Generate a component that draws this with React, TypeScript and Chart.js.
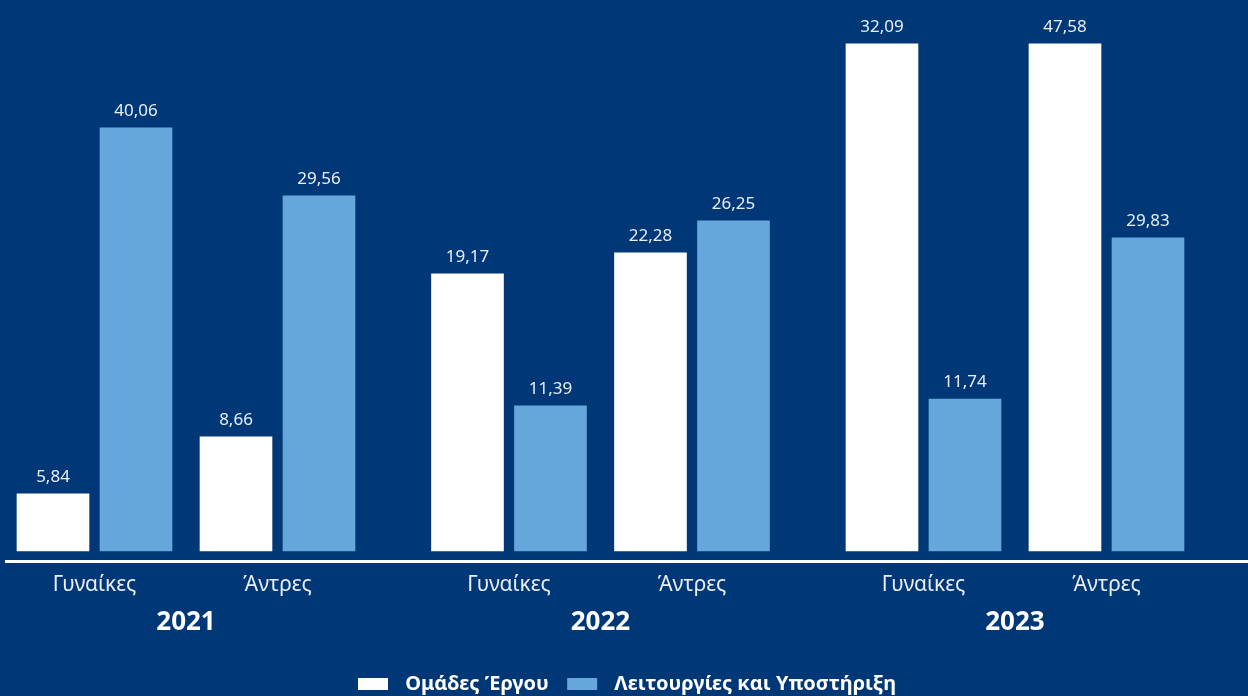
import React, { useEffect, useRef } from 'react';
import { Chart, registerables } from 'chart.js';

Chart.register(...registerables);

// ---- data ----
const years = ['2021', '2022', '2023'];
const genders = ['Γυναίκες', 'Άντρες'];
const seriesNames = ['Ομάδες Έργου', 'Λειτουργίες και Υποστήριξη'];
// printed values, order: 2021 Γυναίκες, 2021 Άντρες, 2022 Γυναίκες, 2022 Άντρες, 2023 Γυναίκες, 2023 Άντρες
const projectTeamsValues = [5.84, 8.66, 19.17, 22.28, 32.09, 47.58];
const operationsValues = [40.06, 29.56, 11.39, 26.25, 11.74, 29.83];
// bar heights as drawn in the picture (same order)
const projectTeamsHeights = [5.35, 10.7, 26.0, 27.97, 47.58, 47.58];
const operationsHeights = [39.7, 33.31, 13.61, 30.97, 14.26, 29.37];

// ---- style ----
const BG = '#003776';
const WHITE = '#ffffff';
const BLUE = '#66a7db';
const LABEL = '#e9eef5';
const FONT = '"Noto Sans", "DejaVu Sans", sans-serif';

const GROUP_GAP = 0.265;
const pos = (yi: number, gi: number) => yi * (genders.length + GROUP_GAP) + gi;
const catPositions = years.flatMap((_, yi) => genders.map((_, gi) => pos(yi, gi)));
const catLabels = years.flatMap(() => genders);
const yearPositions = years.map((_, yi) => pos(yi, (genders.length - 1) / 2));
const X_MIN = -0.4836;
const X_MAX = 6.3033;

const fmt = (v: number) => v.toFixed(2).replace('.', ',');

const valueLabelPlugin = {
  id: 'valueLabels',
  afterDatasetsDraw(chart: any) {
    const ctx = chart.ctx;
    ctx.save();
    ctx.font = `17px ${FONT}`;
    ctx.fillStyle = LABEL;
    ctx.textAlign = 'center';
    ctx.textBaseline = 'alphabetic';
    [projectTeamsValues, operationsValues].forEach((vals, di) => {
      chart.getDatasetMeta(di).data.forEach((el: any, i: number) => {
        ctx.fillText(fmt(vals[i]), el.x, el.y - 12);
      });
    });
    ctx.restore();
  },
};

export default function App() {
  const ref = useRef<HTMLCanvasElement | null>(null);

  useEffect(() => {
    if (!ref.current) return;
    const chart = new Chart(ref.current, {
      type: 'bar',
      data: {
        datasets: [
          {
            label: seriesNames[0],
            data: projectTeamsHeights.map((h, i) => ({ x: catPositions[i], y: h })),
            backgroundColor: WHITE,
            borderWidth: 0,
          },
          {
            label: seriesNames[1],
            data: operationsHeights.map((h, i) => ({ x: catPositions[i], y: h })),
            backgroundColor: BLUE,
            borderWidth: 0,
          },
        ],
      },
      options: {
        animation: false,
        responsive: true,
        maintainAspectRatio: false,
        events: [],
        layout: { padding: { top: 18, left: 6, right: 0, bottom: 0 } },
        datasets: {
          bar: { barThickness: 83, maxBarThickness: 72 },
        },
        scales: {
          x: {
            type: 'linear',
            position: 'bottom',
            offset: false,
            weight: 0,
            min: X_MIN,
            max: X_MAX,
            afterBuildTicks: (axis: any) => {
              axis.ticks = catPositions.map((v) => ({ value: v }));
            },
            afterFit: (axis: any) => {
              axis.height = 40;
            },
            grid: { display: true, offset: false, color: 'transparent', drawTicks: false, drawOnChartArea: false },
            border: { display: true, color: WHITE, width: 3 },
            ticks: {
              autoSkip: false,
              maxRotation: 0,
              padding: 11,
              color: LABEL,
              font: { family: FONT, size: 21 },
              callback: (_v: any, i: number) => catLabels[i],
            },
          },
          years: {
            type: 'linear',
            position: 'bottom',
            axis: 'x',
            offset: false,
            weight: 1,
            min: X_MIN,
            max: X_MAX,
            afterBuildTicks: (axis: any) => {
              axis.ticks = yearPositions.map((v) => ({ value: v }));
            },
            afterFit: (axis: any) => {
              axis.height = 63;
            },
            grid: { display: false, offset: false, drawTicks: false },
            border: { display: false },
            ticks: {
              autoSkip: false,
              maxRotation: 0,
              padding: 6,
              color: WHITE,
              font: { family: FONT, size: 26, weight: 'bold' },
              callback: (_v: any, i: number) => years[i],
            },
          },
          y: {
            display: false,
            min: -0.94,
            max: 50,
          },
        },
        plugins: {
          tooltip: { enabled: false },
          legend: {
            display: true,
            position: 'bottom',
            labels: {
              boxWidth: 30,
              boxHeight: 12,
              padding: 10,
              color: WHITE,
              font: { family: FONT, size: 20, weight: 'bold' },
              generateLabels: (c: any) =>
                Chart.defaults.plugins.legend.labels.generateLabels(c).map((l: any, i: number, arr: any[]) => ({
                  ...l,
                  lineWidth: 0,
                  text: ' \u200A' + l.text + (i < arr.length - 1 ? ' \u2009' : ''),
                })),
            },
          },
        },
      } as any,
      plugins: [valueLabelPlugin],
    });
    return () => chart.destroy();
  }, []);

  return (
    <div
      style={{
        position: 'fixed',
        left: 0,
        top: 0,
        width: 1248,
        height: 696,
        overflow: 'hidden',
        background: BG,
      }}
    >
      <div style={{ position: 'relative', width: 1248, height: 704 }}>
        <canvas ref={ref} />
      </div>
    </div>
  );
}
